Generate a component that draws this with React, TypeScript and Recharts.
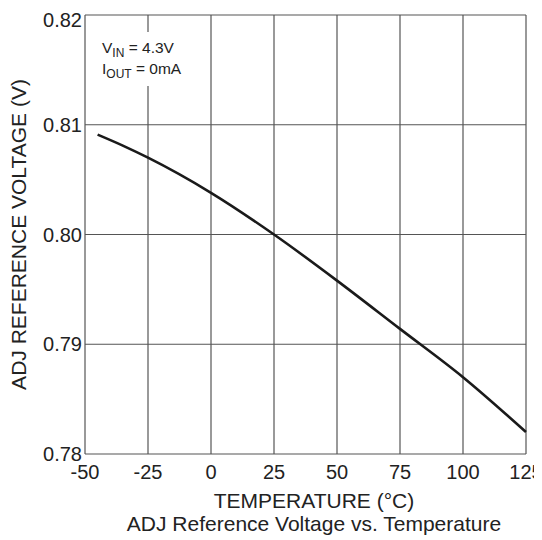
import React from 'react';
import { LineChart, Line, XAxis, YAxis, CartesianGrid, Customized } from 'recharts';

const temperatures = [-45, -35, -25, 0, 25, 50, 75, 100, 125];
const refVoltage = [0.8091, 0.8081, 0.807, 0.8038, 0.8, 0.7958, 0.7914, 0.787, 0.782];

const xTicks = [-50, -25, 0, 25, 50, 75, 100, 125];
const yTicks = [0.78, 0.79, 0.8, 0.81, 0.82];

const FONT = '"Liberation Sans", Arial, Helvetica, sans-serif';

const data = temperatures.map((t, i) => ({ t, v: refVoltage[i] }));

// titles and the condition note, drawn in svg coordinates
const Texts = () => (
  <g fontFamily={FONT} fill="#222">
    <rect x={84} y={24} width={108} height={54} fill="#fff" />
    <text
      x={10.5}
      y={226.5}
      transform="rotate(-90 10.5 226.5)"
      textAnchor="middle"
      dominantBaseline="central"
      fontSize={21}
    >
      ADJ REFERENCE VOLTAGE (V)
    </text>
    <text x={306} y={500} textAnchor="middle" fontSize={21}>
      TEMPERATURE (°C)
    </text>
    <text x={306} y={523} textAnchor="middle" fontSize={21}>
      ADJ Reference Voltage vs. Temperature
    </text>
    <text x={94} y={45} fontSize={15.5}>
      V<tspan fontSize={12} dy={4}>IN</tspan>
      <tspan dy={-4}> = 4.3V</tspan>
    </text>
    <text x={94} y={65.5} fontSize={15.5}>
      I<tspan fontSize={12} dy={4}>OUT</tspan>
      <tspan dy={-4}> = 0mA</tspan>
    </text>
  </g>
);

export default function App() {
  return (
    <div style={{ width: 534, height: 530 }}>
      <LineChart
        width={534}
        height={530}
        data={data}
        margin={{ top: 7, right: 16, left: 17, bottom: 54 }}
      >
        <CartesianGrid stroke="#555" strokeWidth={1.2} />
        <XAxis
          dataKey="t"
          type="number"
          domain={[-50, 125]}
          ticks={xTicks}
          axisLine={false}
          tickLine={false}
          tickSize={0}
          tickMargin={11}
          height={30}
          tick={{ fontSize: 20, fontFamily: FONT, fill: '#222' }}
        />
        <YAxis
          type="number"
          domain={[0.78, 0.82]}
          ticks={yTicks}
          axisLine={false}
          tickLine={false}
          tickSize={0}
          tickMargin={3}
          width={60}
          tickFormatter={(v: number) => v.toFixed(2)}
          tick={{ fontSize: 20, fontFamily: FONT, fill: '#222' }}
        />
        <Line
          type="monotone"
          dataKey="v"
          stroke="#1a1a1a"
          strokeWidth={2.6}
          dot={false}
          isAnimationActive={false}
        />
        <Customized component={Texts} />
      </LineChart>
    </div>
  );
}
